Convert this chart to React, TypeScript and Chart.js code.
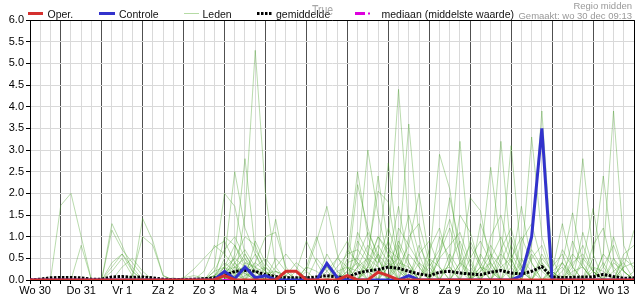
import { useEffect, useRef } from "react";
import { Chart, registerables } from "chart.js";

Chart.register(...registerables);

// ---- categories (forecast hour from start of Wo 30) ----
const HOURS = [
  6, 12, 18, 24, 30, 36, 42, 48, 54, 60,
  66, 72, 78, 84, 90, 96, 102, 108, 114, 120,
  126, 132, 138, 144, 150, 156, 162, 168, 174, 180,
  186, 192, 198, 204, 210, 216, 222, 228, 234, 240,
  246, 252, 258, 264, 270, 276, 282, 288, 294, 300,
  306, 312, 318, 324, 330, 336, 342, 348, 354, 360,
];
const DAY_LABELS = ["Wo 30", "Do 31", "Vr 1", "Za 2", "Zo 3", "Ma 4", "Di 5", "Wo 6", "Do 7", "Vr 8", "Za 9", "Zo 10", "Ma 11", "Di 12", "Wo 13"];
const DAY_LABEL_HOURS = [9, 36, 60, 84, 108, 132, 156, 180, 204, 228, 252, 276, 300, 324, 348];
const Y_TICKS = [0, 0.5, 1, 1.5, 2, 2.5, 3, 3.5, 4, 4.5, 5, 5.5, 6];

// ---- series ----
const OPER = [
  0, 0, 0, 0, 0, 0, 0, 0, 0, 0,
  0, 0, 0, 0, 0, 0, 0, 0, 0, 0.1,
  0, 0, 0, 0, 0, 0.2, 0.2, 0, 0, 0,
  0, 0.1, 0, 0, 0.18, 0.1, 0, 0, 0, 0,
  0, 0, 0, 0, 0, 0, 0, 0, 0, 0,
  0, 0, 0, 0, 0, 0, 0, 0, 0, 0,
];
const CONTROLE = [
  0, 0, 0, 0, 0, 0, 0, 0, 0, 0,
  0, 0, 0, 0, 0, 0, 0, 0, 0, 0.2,
  0.03, 0.3, 0.05, 0.1, 0, 0, 0, 0, 0, 0.38,
  0.06, 0, 0, 0, 0, 0, 0, 0.1, 0, 0,
  0, 0, 0, 0, 0, 0, 0, 0, 0.1, 1.0,
  3.5, 0, 0, 0, 0, 0, 0, 0, 0, 0,
];
const GEMIDDELDE = [
  0, 0.02, 0.05, 0.06, 0.06, 0.05, 0.02, 0.02, 0.07, 0.08,
  0.06, 0.07, 0.05, 0.02, 0.01, 0.01, 0.02, 0.03, 0.05, 0.1,
  0.2, 0.22, 0.2, 0.12, 0.08, 0.05, 0.05, 0.05, 0.07, 0.1,
  0.07, 0.06, 0.16, 0.21, 0.24, 0.3, 0.27, 0.2, 0.14, 0.1,
  0.18, 0.2, 0.16, 0.14, 0.12, 0.18, 0.22, 0.16, 0.14, 0.2,
  0.31, 0.07, 0.06, 0.06, 0.07, 0.07, 0.13, 0.08, 0.04, 0.05,
];
const MEDIAAN = [
  0, 0, 0, 0, 0, 0, 0, 0, 0, 0,
  0, 0, 0, 0, 0, 0, 0, 0, 0, 0,
  0, 0, 0, 0, 0, 0, 0, 0, 0, 0,
  0, 0, 0, 0, 0, 0, 0, 0, 0, 0,
  0, 0, 0, 0, 0, 0, 0, 0, 0, 0,
  0, 0, 0, 0, 0, 0, 0, 0, 0, 0,
];

const LID_01 = [
  0, 0, 0, 1.72, 2.0, 1.0, 0, 0, 0, 0,
  0, 0, 0, 0, 0, 0, 0, 0, 0, 0,
  0.3, 0.5, 0.2, 0, 0, 0, 0, 0, 0, 0,
  0, 0, 0, 0.4, 1.0, 0.6, 0.2, 0, 0, 0,
  0, 0, 0, 0, 0.3, 0.8, 0.4, 0, 0, 0,
  0, 0, 0.2, 0.6, 0.3, 0, 0, 0, 0, 0,
];
const LID_02 = [
  0, 0, 0, 0, 0, 0.8, 0, 0, 0.3, 0.6,
  0.2, 0, 0, 0, 0, 0, 0, 0, 0, 0.5,
  2.5, 1.2, 0.6, 0.2, 0, 0, 0, 0, 0, 0,
  0, 0, 0.3, 0.8, 0.5, 0, 0, 0, 0, 0,
  0.6, 1.2, 0.4, 0, 0, 0, 0, 0, 0, 0,
  0, 0, 0, 0, 0, 0, 0.3, 0.8, 0.2, 0,
];
const LID_03 = [
  0, 0, 0, 0, 0, 0, 0, 0, 1.3, 0.8,
  0.2, 0, 0, 0, 0, 0, 0, 0, 0.3, 2.0,
  1.7, 0.6, 0.2, 0, 0, 0, 0, 0, 0, 0.2,
  0.5, 0.3, 0, 0, 0, 0.9, 4.4, 1.2, 0.3, 0,
  0, 0, 0, 0, 0, 0, 0, 0.5, 1.0, 0.4,
  0, 0, 0, 0, 0, 0.2, 0, 0, 0, 0,
];
const LID_04 = [
  0, 0, 0, 0, 0, 0, 0, 0, 1.15, 0.7,
  0.4, 0.1, 0, 0, 0, 0, 0, 0, 0, 0,
  0, 1.5, 5.3, 2.0, 0.3, 0, 0, 0, 0, 0,
  0, 0.5, 2.5, 1.0, 0.3, 0, 0, 0, 0, 0,
  0, 0, 0.3, 0.8, 0.3, 0, 0, 0, 0, 0,
  0.4, 0.1, 0, 0, 0, 0, 0, 0, 0, 0,
];
const LID_05 = [
  0, 0, 0, 0, 0, 0, 0, 0, 0.4, 0.6,
  0.3, 0, 0, 0, 0, 0, 0, 0, 0, 0,
  0.6, 2.8, 0.7, 0.3, 0, 0, 0, 0, 0, 0,
  0, 0, 0.6, 3.0, 1.5, 0.5, 0, 0, 0, 0,
  0, 0, 0, 0, 0, 0.5, 1.0, 0.4, 0, 0,
  0, 0, 0, 0.3, 0.8, 0.2, 0, 0, 0, 0,
];
const LID_06 = [
  0, 0, 0, 0, 0, 0, 0, 0, 0.2, 0.5,
  0.1, 0, 0, 0, 0, 0, 0, 0, 0, 0,
  0, 0, 0, 0.3, 1.4, 0.2, 0, 0, 0, 0,
  0, 0.2, 2.2, 1.2, 0.5, 0, 0.6, 3.6, 1.0, 0,
  0, 0, 0, 0, 0, 0, 0, 0, 0, 0.8,
  3.9, 0.5, 0, 0, 0, 0, 0, 0, 0.3, 0.4,
];
const LID_07 = [
  0, 0, 0, 0, 0, 0, 0, 0, 0, 0.3,
  0.5, 0.2, 0, 0, 0, 0, 0, 0, 0.2, 0.7,
  1.0, 0.5, 0, 0, 0, 0, 0, 0.2, 0.9, 1.7,
  0.6, 0, 0, 0.5, 2.4, 0.8, 0, 0, 0, 0.4,
  2.9, 2.1, 0.5, 0, 0, 0, 0, 0, 0, 0,
  0, 0, 0, 0, 0, 0, 0.6, 3.9, 0.8, 0.2,
];
const LID_08 = [
  0, 0, 0, 0, 0, 0, 0, 0, 0, 0,
  0, 1.42, 0.9, 0.1, 0, 0, 0, 0, 0, 0.3,
  0.5, 1.0, 0.8, 0.2, 0, 0, 0, 0, 0, 0,
  0, 0, 0, 0, 0.6, 2.7, 0.6, 0, 0, 0,
  0, 0.4, 3.2, 0.5, 0, 0, 0, 0, 0, 0,
  0, 0, 0, 0.5, 2.8, 0.6, 0, 0, 0, 0,
];
const LID_09 = [
  0, 0, 0, 0, 0, 0, 0, 0, 0, 0,
  0.1, 1.0, 0.8, 0.1, 0, 0, 0, 0, 0, 0,
  0, 0, 0.4, 1.0, 1.1, 0.3, 0, 0, 0, 0,
  0, 0, 1.1, 0.6, 2.05, 1.8, 0.4, 0, 0, 0,
  0, 0, 0, 0, 0.5, 2.6, 0.8, 0, 0, 0,
  0, 0, 0, 0, 0, 0.5, 2.4, 0.5, 0, 0,
];
const LID_10 = [
  0, 0, 0, 0, 0, 0, 0, 0, 0, 0,
  0, 0, 0, 0, 0, 0.05, 0.25, 0.5, 0.75, 0.9,
  0.4, 0, 0, 0, 0, 0, 0.2, 0.9, 0.4, 0,
  0, 0, 0, 0, 0, 0.5, 1.7, 0.4, 0, 0,
  0, 0, 0, 0, 0, 0.4, 3.2, 0.6, 0.2, 0,
  0, 0.2, 1.3, 0.3, 0, 0, 0, 0, 0, 0,
];
const LID_11 = [
  0, 0, 0, 0, 0, 0, 0, 0, 0, 0,
  0, 0, 0, 0, 0, 0, 0, 0.2, 0.8, 0.6,
  0.3, 0, 0, 0, 0, 0, 0, 0.3, 1.0, 0.3,
  0, 0, 0, 0, 0, 0, 0.3, 0.8, 2.0, 0.5,
  0, 0, 0, 0, 0, 0, 0, 0, 0.4, 3.3,
  1.0, 0.2, 0, 0, 0, 0, 0, 0, 0.3, 1.15,
];
const LID_12 = [
  0, 0, 0, 0, 0, 0, 0, 0, 0, 0,
  0, 0, 0, 0, 0, 0.05, 0.1, 0.05, 0, 1.0,
  0.8, 0.4, 0, 0, 0, 0, 0, 0, 0, 0,
  0.3, 0.6, 0.7, 0.4, 0, 0, 0, 0, 0, 0,
  0.5, 1.9, 0.8, 0, 0, 0, 0.5, 3.1, 0.5, 0,
  0, 0, 0.4, 1.55, 0.4, 0, 0, 0, 0, 0,
];
const LID_13 = [
  0, 0, 0, 0, 0, 0, 0, 0, 0, 0,
  0, 0, 0, 0, 0.05, 0, 0, 0, 0.1, 0.4,
  0.2, 0, 0, 0, 0.3, 0.6, 0.3, 0, 0, 0,
  0, 0.4, 0.5, 1.1, 0.6, 0, 0, 0, 0, 0,
  0, 0, 0.4, 1.9, 1.6, 0.3, 0, 0, 0, 0,
  0, 0, 0, 0, 0.4, 1.65, 0.3, 0, 0, 0,
];
const LID_14 = [
  0, 0, 0, 0, 0, 0, 0, 0, 0, 0,
  0, 0, 0, 0, 0, 0, 0, 0, 0, 0.2,
  0.3, 0.2, 0.6, 0.1, 0, 0, 0, 0, 0, 0,
  0, 0, 0, 0.3, 1.0, 0.7, 0.5, 0.2, 0, 0,
  0, 0, 0, 0, 0, 0, 0, 0.3, 1.7, 0.4,
  0, 0.1, 0.3, 0, 0, 0, 0, 0, 0, 0,
];
const LID_15 = [
  0, 0, 0, 0, 0, 0, 0, 0, 0, 0,
  0, 0, 0, 0, 0, 0, 0, 0, 0, 0,
  0.4, 0.7, 0.3, 0, 0, 0, 0, 0, 0, 0,
  0, 0, 0.3, 0.5, 0.3, 0, 0, 0, 0.6, 0.9,
  0.3, 0, 0, 0, 0.2, 0.6, 0.3, 0, 0, 0,
  0, 0, 0, 0, 0, 0, 0, 0.5, 0.2, 0,
];
const LID_16 = [
  0, 0, 0, 0, 0, 0, 0, 0, 0, 0,
  0, 0, 0, 0, 0, 0, 0, 0, 0.2, 0.3,
  0.8, 0.3, 0, 0, 0, 0, 0, 0.3, 0.2, 0,
  0, 0, 0, 0.6, 0.4, 0.9, 0.3, 0, 0, 0,
  1.0, 0.5, 0, 0, 0, 0, 0, 0, 0, 0,
  0.6, 0.2, 0, 0, 0, 0, 0, 0, 0, 0,
];
const LID_17 = [
  0, 0, 0, 0, 0, 0, 0, 0, 0, 0,
  0, 0, 0, 0, 0, 0, 0, 0, 0, 0,
  0, 0.4, 0.3, 0.5, 0.2, 0, 0, 0, 0, 0,
  0, 0.7, 0.4, 0, 0, 0, 1.2, 0.8, 0.4, 0,
  0, 0, 0, 0, 0, 0, 0.7, 1.2, 0.3, 0,
  0, 0, 0, 0, 0.5, 0.2, 0, 0, 0, 0,
];
const LID_18 = [
  0, 0, 0, 0, 0, 0, 0, 0, 0, 0,
  0, 0, 0, 0, 0, 0, 0, 0, 0, 0.1,
  0.2, 0.3, 0.1, 0, 0, 0, 0, 0, 0, 0.6,
  0.2, 0, 0, 0, 0, 0.3, 0.5, 1.5, 0.6, 0,
  0, 0, 0, 0.9, 0.4, 0, 0, 0, 0, 0,
  0, 0, 0.4, 0.1, 0, 0, 0, 0, 0, 0,
];
const LID_19 = [
  0, 0, 0, 0, 0, 0, 0, 0, 0, 0,
  0, 0, 0, 0, 0, 0, 0, 0, 0, 0,
  0, 0, 0.9, 0.4, 0.1, 0, 0, 0, 0, 0,
  0, 0, 0.9, 0.5, 0, 0, 0, 0, 0, 0.3,
  0.7, 1.4, 0.6, 0, 0, 0, 0, 0, 0, 0.5,
  0.8, 0.1, 0, 0, 0, 0, 0.6, 0.3, 0, 0,
];
const LID_20 = [
  0, 0, 0, 0, 0, 0, 0, 0, 0, 0,
  0, 0, 0, 0, 0, 0, 0, 0, 0.05, 0.15,
  0.4, 0.15, 0, 0, 0, 0.1, 0.4, 0.2, 0, 0,
  0, 0, 0, 0, 0, 0, 0, 0.6, 0.3, 0,
  0, 0, 0, 0, 1.3, 0.6, 0, 0, 0, 0,
  0, 0, 0, 0, 0, 0, 0, 0, 0.5, 0.3,
];
const LID_21 = [
  0, 0, 0, 0, 0, 0, 0, 0, 0, 0,
  0, 0, 0, 0, 0, 0, 0, 0, 0, 0,
  0, 0, 0.2, 0.3, 0.1, 0, 0, 0, 0, 0,
  0.5, 0.9, 0.3, 0, 0, 0, 0, 0, 0, 0,
  0, 0.4, 0.9, 0.3, 0, 0, 0, 0.8, 0.3, 0,
  0, 0, 0, 0, 1.1, 0.3, 0, 0, 0, 0,
];
const LID_22 = [
  0, 0, 0, 0, 0, 0, 0, 0, 0, 0,
  0, 0, 0, 0, 0, 0, 0, 0, 0, 0.05,
  0.1, 0.2, 0, 0, 0, 0, 0, 0, 0, 0,
  0, 0, 0, 0, 0.4, 1.2, 0.5, 0, 0, 0,
  0, 0, 0, 0, 0, 1.0, 1.5, 0.5, 0, 0,
  0, 0, 0.7, 0.3, 0, 0, 0, 0, 0, 0,
];
const LID_23 = [
  0, 0, 0, 0, 0, 0, 0, 0, 0, 0,
  0, 0, 0, 0, 0, 0, 0, 0, 0, 0,
  0.15, 0.3, 0.1, 0, 0, 0, 0, 0, 0, 0,
  0, 0, 0, 0.2, 0.6, 0.3, 0, 0, 0, 0.7,
  1.2, 0.3, 0, 0, 0, 0, 0, 0, 0.9, 1.3,
  0.4, 0, 0, 0, 0, 0, 0, 1.0, 0.2, 0,
];
const LID_24 = [
  0, 0, 0, 0, 0, 0, 0, 0, 0, 0,
  0, 0, 0, 0, 0, 0, 0, 0, 0, 0,
  0, 0, 0, 0.15, 0.2, 0.1, 0, 0, 0, 0,
  0, 0, 0.5, 0.2, 0, 0, 0, 1.0, 1.3, 0.4,
  0, 0, 0, 0, 0.6, 0.2, 0, 0, 0, 0,
  0, 0, 0, 0, 0, 0.8, 1.2, 0.2, 0, 0,
];
const LID_25 = [
  0, 0, 0, 0, 0, 0, 0, 0, 0, 0,
  0, 0, 0, 0, 0, 0, 0, 0, 0, 0.3,
  0.15, 0, 0, 0, 0, 0, 0, 0, 0.5, 0.2,
  0, 0, 0, 0, 0, 0, 0.8, 0.3, 0, 0,
  0, 0, 1.5, 1.1, 0.3, 0, 0, 0, 0, 0,
  0, 0, 0, 0.9, 0.3, 0, 0, 0, 0, 0,
];
const LID_26 = [
  0, 0, 0, 0, 0, 0, 0, 0, 0, 0,
  0, 0, 0, 0, 0, 0, 0, 0, 0, 0,
  0, 0.1, 0.2, 0, 0, 0, 0, 0, 0, 0,
  0, 0.3, 0.2, 0, 0, 0, 0, 0, 0.8, 0.3,
  0, 0, 0, 0, 0, 0, 0.4, 1.0, 0.2, 0,
  0, 0.3, 0.6, 0, 0, 0, 0, 0, 0, 0,
];
const LID_27 = [
  0, 0, 0, 0, 0, 0, 0, 0, 0, 0,
  0, 0, 0, 0, 0, 0, 0, 0, 0, 0,
  0, 0, 0, 0, 0.5, 0.2, 0, 0, 0, 0,
  0, 0, 0, 0.3, 0.8, 0.4, 0, 0, 0, 0,
  0.5, 0.8, 1.1, 0.4, 0, 0, 0, 0, 0, 0.6,
  0.2, 0, 0, 0, 0, 0, 0, 0, 0.6, 0.8,
];
const LID_28 = [
  0, 0, 0, 0, 0, 0, 0, 0, 0, 0,
  0, 0, 0, 0, 0, 0, 0, 0, 0, 0,
  0.1, 0.15, 0, 0, 0, 0, 0, 0, 0, 0,
  0, 0, 0, 0, 0, 0.3, 0.9, 0.4, 0, 0,
  0, 0, 0, 0.5, 0.9, 0.4, 0, 0, 0, 0,
  0.5, 0.2, 0, 0, 0, 0, 0.4, 0, 0, 0,
];
const LID_29 = [
  0, 0, 0, 0, 0, 0, 0, 0, 0, 0,
  0, 0, 0, 0, 0, 0, 0, 0, 0.1, 0.2,
  0, 0, 0, 0, 0, 0, 0, 0, 0, 0,
  0.2, 0.3, 0, 0, 0, 0, 0, 0, 0, 0.5,
  0.3, 0, 0, 0, 0, 0.3, 0.6, 0.3, 0, 0,
  0, 0, 0, 0.4, 0.6, 0.2, 0, 0, 0, 0,
];
const LID_30 = [
  0, 0, 0, 0, 0, 0, 0, 0, 0, 0,
  0, 0, 0, 0, 0, 0, 0, 0, 0, 0,
  0, 0, 0.3, 0.15, 0, 0, 0, 0, 0, 0,
  0, 0, 0, 0, 0.2, 0.4, 0.2, 0, 0, 0,
  0, 0.6, 0.2, 0, 0, 0, 0, 0, 0.3, 0.7,
  0.3, 0, 0, 0, 0, 0, 0, 0.4, 0.2, 0,
];
const LID_31 = [
  0, 0, 0, 0, 0, 0, 0, 0, 0, 0,
  0, 0, 0, 0, 0, 0, 0, 0, 0, 0.2,
  0.5, 0.3, 0, 0, 0, 0, 0, 0, 0, 0,
  0, 0.2, 0.4, 0.2, 0, 0, 0, 0, 0.4, 0.2,
  0, 0, 0, 0, 0.3, 0.2, 0, 0, 0, 0,
  0, 0.2, 0.4, 0, 0, 0, 0, 0, 0, 0.2,
];
const LID_32 = [
  0, 0, 0, 0, 0, 0, 0, 0, 0, 0,
  0, 0, 0, 0, 0, 0, 0, 0, 0, 0,
  0, 0.2, 0.4, 0.2, 0, 0, 0, 0, 0, 0,
  0, 0, 0, 0, 0, 0.6, 0.3, 0, 0, 0,
  0.2, 0.3, 0, 0, 0, 0, 0, 0, 0.5, 0.2,
  0, 0, 0, 0, 0, 0.3, 0.2, 0, 0, 0,
];
const LID_33 = [
  0, 0, 0, 0, 0, 0, 0, 0, 0, 0,
  0, 0, 0, 0, 0, 0, 0, 0, 0.1, 0.3,
  0, 0, 0, 0, 0.2, 0.1, 0, 0, 0, 0,
  0, 0, 0, 0.3, 0.2, 0, 0, 0, 0, 0,
  0, 0, 0.4, 0.2, 0, 0, 0.3, 0.5, 0, 0,
  0, 0, 0, 0, 0, 0, 0, 0.2, 0.4, 0,
];
const LID_34 = [
  0, 0, 0, 0, 0, 0, 0, 0, 0, 0,
  0, 0, 0, 0, 0, 0, 0, 0, 0, 0,
  0.2, 0.6, 0.2, 0, 0, 0, 0, 0, 0, 0.3,
  0.1, 0, 0, 0, 0, 0, 0.4, 0.3, 0, 0,
  0, 0, 0, 0, 0.2, 0.4, 0, 0, 0, 0,
  0.3, 0, 0, 0.2, 0.3, 0, 0, 0, 0, 0,
];
const LEDEN = [
  LID_01, LID_02, LID_03, LID_04, LID_05, LID_06, LID_07, LID_08, LID_09, LID_10,
  LID_11, LID_12, LID_13, LID_14, LID_15, LID_16, LID_17, LID_18, LID_19, LID_20,
  LID_21, LID_22, LID_23, LID_24, LID_25, LID_26, LID_27, LID_28, LID_29, LID_30,
  LID_31, LID_32, LID_33, LID_34,
];

const FONT = "'Liberation Sans', Arial, Helvetica, sans-serif";
const RED = "#d4302e";
const BLUE = "#3232cc";
const MEMBER_COLOR = "rgba(70,160,40,0.38)";
const MAGENTA = "#dd00dd";

const toPoints = (arr: number[]) => arr.map((v, i) => ({ x: HOURS[i], y: v }));

const overlayPlugin = {
  id: "knmiOverlay",
  afterDraw(chart: any) {
    const ctx = chart.ctx as CanvasRenderingContext2D;
    const { left, top, right, bottom } = chart.chartArea;
    ctx.save();
    // frame (top + right)
    ctx.strokeStyle = "#000";
    ctx.lineWidth = 1;
    ctx.setLineDash([]);
    ctx.beginPath();
    ctx.moveTo(left, top + 0.5);
    ctx.lineTo(right + 0.5, top + 0.5);
    ctx.lineTo(right + 0.5, bottom);
    ctx.stroke();

    // legend
    const ly = 13.5;
    const seg = (x1: number, x2: number, color: string, w: number, dash: number[]) => {
      ctx.beginPath();
      ctx.strokeStyle = color;
      ctx.lineWidth = w;
      ctx.setLineDash(dash);
      ctx.moveTo(x1, ly);
      ctx.lineTo(x2, ly);
      ctx.stroke();
    };
    seg(28, 43, RED, 3, []);
    seg(99, 115, BLUE, 3, []);
    seg(184, 199, "rgba(120,190,90,0.55)", 1, []);
    seg(257, 272, "#000", 3, [2.5, 1.5]);
    seg(355, 365, MAGENTA, 3, []);
    seg(368, 370, MAGENTA, 2, []);
    ctx.setLineDash([]);
    ctx.fillStyle = "#111";
    ctx.font = `10.5px ${FONT}`;
    ctx.textBaseline = "alphabetic";
    ctx.textAlign = "left";
    ctx.fillText("Oper.", 47.5, 17.5);
    ctx.fillText("Controle", 119, 17.5);
    ctx.fillText("Leden", 202.5, 17.5);
    ctx.fillText("gemiddelde", 276, 17.5);
    ctx.fillText("mediaan (middelste waarde)", 381.5, 17.5);

    // grey info text
    ctx.fillStyle = "#999";
    ctx.font = `9.5px ${FONT}`;
    ctx.textAlign = "right";
    ctx.fillText("Regio midden", 632, 8.5);
    ctx.fillText("Gemaakt: wo 30 dec 09:13", 632, 18.5);

    // stray title text
    ctx.save();
    ctx.fillStyle = "rgba(150,150,150,0.85)";
    ctx.font = `14px ${FONT}`;
    ctx.textAlign = "left";
    ctx.translate(312, 15);
    ctx.scale(0.75, 1);
    ctx.fillText("True", 0, 0);
    ctx.restore();

    ctx.restore();
  },
};

export default function App() {
  const canvasRef = useRef<HTMLCanvasElement | null>(null);

  useEffect(() => {
    if (!canvasRef.current) return;
    const tickValues = Array.from(new Set([...HOURS, ...DAY_LABEL_HOURS])).sort((a, b) => a - b);

    const memberSets = LEDEN.map((arr, k) => ({
      label: `Lid ${k + 1}`,
      data: toPoints(arr),
      borderColor: MEMBER_COLOR,
      borderWidth: 1,
      pointRadius: 0,
      tension: 0,
      order: 10,
    }));

    const chart = new Chart(canvasRef.current, {
      type: "line",
      data: {
        datasets: [
          { label: "Oper.", data: toPoints(OPER), borderColor: RED, borderWidth: 3, pointRadius: 0, tension: 0, order: 0 },
          { label: "Controle", data: toPoints(CONTROLE), borderColor: BLUE, borderWidth: 3, pointRadius: 0, tension: 0, order: 1 },
          { label: "gemiddelde", data: toPoints(GEMIDDELDE), borderColor: "#000", borderWidth: 3, borderDash: [2.5, 1.5], pointRadius: 0, tension: 0, order: 2 },
          { label: "mediaan (middelste waarde)", data: toPoints(MEDIAAN), borderColor: MAGENTA, borderWidth: 2, borderDash: [8, 3, 2, 3], pointRadius: 0, tension: 0, order: 3 },
          ...memberSets,
        ] as any,
      },
      options: {
        responsive: false,
        animation: false,
        devicePixelRatio: 1,
        layout: { padding: { top: 20, right: 1, left: 0, bottom: 0 } },
        plugins: { legend: { display: false }, tooltip: { enabled: false }, title: { display: false } },
        scales: {
          x: {
            type: "linear",
            min: 6,
            max: 360,
            afterBuildTicks: (scale: any) => {
              scale.ticks = tickValues.map((v) => ({ value: v }));
            },
            afterFit: (scale: any) => {
              scale.height = 20;
            },
            ticks: {
              autoSkip: false,
              maxRotation: 0,
              minRotation: 0,
              padding: 0,
              color: "#000",
              font: { family: FONT, size: 11 },
              callback: (value: any) => {
                const idx = DAY_LABEL_HOURS.indexOf(Number(value));
                return idx >= 0 ? DAY_LABELS[idx] : "";
              },
            },
            grid: {
              lineWidth: 1,
              tickLength: 4,
              color: (c: any) => {
                const v = c.tick ? c.tick.value : 0;
                if (v % 24 === 0) return "#505050";
                if (v % 6 === 0) return "#d9d9d9";
                return "rgba(0,0,0,0)";
              },
              tickColor: (c: any) => {
                const v = c.tick ? c.tick.value : 0;
                return v % 6 === 0 ? "#000" : "rgba(0,0,0,0)";
              },
            },
            border: { display: true, color: "#000" },
          },
          y: {
            type: "linear",
            min: 0,
            max: 6,
            afterBuildTicks: (scale: any) => {
              scale.ticks = Y_TICKS.map((v) => ({ value: v }));
            },
            afterFit: (scale: any) => {
              scale.width = 30;
            },
            ticks: {
              padding: 2,
              color: "#000",
              font: { family: FONT, size: 11 },
              callback: (value: any) => Number(value).toFixed(1),
            },
            grid: { color: "#d9d9d9", tickColor: "#000", tickLength: 4, lineWidth: 1 },
            border: { display: true, color: "#000" },
          },
        },
      },
      plugins: [overlayPlugin],
    });
    return () => chart.destroy();
  }, []);

  return (
    <div style={{ position: "fixed", left: 0, top: 0, width: 635, height: 300, background: "#fff" }}>
      <canvas ref={canvasRef} width={635} height={300} style={{ display: "block" }} />
    </div>
  );
}
